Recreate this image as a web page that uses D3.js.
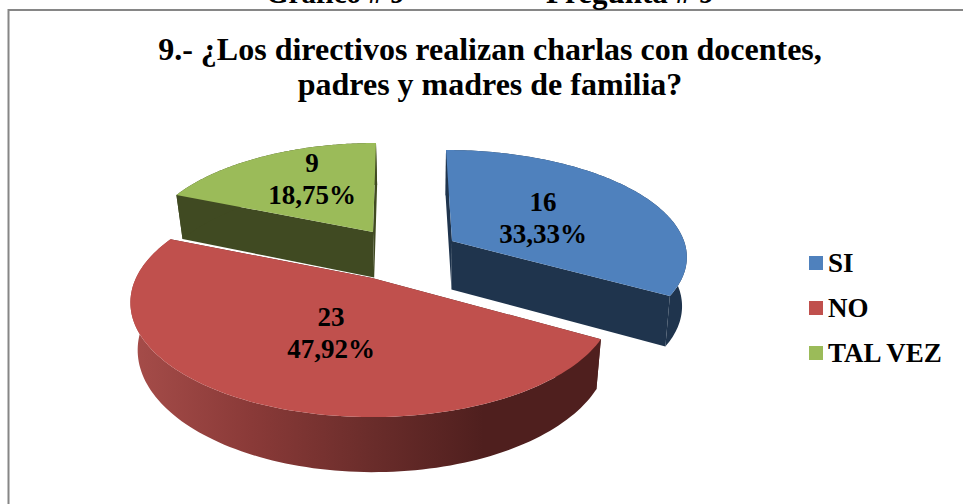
<!DOCTYPE html>
<html><head><meta charset="utf-8">
<script src="https://cdn.jsdelivr.net/npm/d3@7"></script>
<style>html,body{margin:0;padding:0;background:#fff}svg{display:block}text{font-family:"Liberation Serif",serif;font-weight:bold;fill:#000}</style>
</head><body><div id="c"></div>
<script>
const categories=["SI","NO","TAL VEZ"];
const values=[16,23,9];
const percentLabels=["33,33%","47,92%","18,75%"];
const topColors=["#4F81BD","#C0504D","#9BBB59"];
const wallColors=["#1F344D","#4F1F1E","#404A22"];
const titleLines=["9.- ¿Los directivos realizan charlas con docentes,","padres y madres de familia?"];

const W=963,H=504;
const svg=d3.select("#c").append("svg").attr("width",W).attr("height",H);
const defs=svg.append("defs");
const grad=defs.append("linearGradient").attr("id","redRim").attr("gradientUnits","userSpaceOnUse")
  .attr("x1",135).attr("x2",600).attr("y1",0).attr("y2",0);
[[0,"#A54C49"],[.25,"#8A3A38"],[.5,"#6B2D2B"],[.75,"#4F1F1E"],[1,"#4F1F1E"]].forEach(s=>grad.append("stop").attr("offset",s[0]).attr("stop-color",s[1]));
const rimFill=["#1F344D","url(#redRim)","#404A22"];

svg.append("rect").attr("x",8.5).attr("y",10).attr("width",W+20).attr("height",H+20).attr("fill","#fff").attr("stroke","#868686").attr("stroke-width",2);

// per-slice 3D view of each exploded wedge
const views=[
 {ax:452,ay:241,a:102.8,b:232,d:7.7,lean:-6,h:48.5,shrink:.018},
 {ax:372,ay:278,a:109.3,b:236,d:4.67,lean:0,h:46,shrink:.025},
 {ax:373,ay:232,a:102,b:226,d:6.84,lean:3,h:45.5,shrink:.025}
];
const vanishX=421;
const arcs=d3.pie().sort(null).startAngle(0).endAngle(2*Math.PI)(values);
function project(v,t,r,z){
  const x=r*Math.sin(t),y=r*Math.cos(t),s=v.d/(v.d+y);
  let X=v.ax+x*v.b*s+v.lean*y, Y=v.ay-y*v.a*s;
  if(z){X+=(vanishX-X)*v.shrink;Y=v.ay+(Y-v.ay)*.975+v.h*s;}
  return [X,Y];
}
const line=d3.line();
const angles=(a,b)=>d3.range(0,121).map(i=>a+(b-a)*i/120);
const pieG=svg.append("g");
[2,0,1].forEach(i=>{
  const v=views[i],A=arcs[i],g=pieG.append("g");
  const ts=angles(A.startAngle,A.endAngle);
  [A.startAngle,A.endAngle].forEach(t=>{
    g.append("path").attr("fill",wallColors[i]).attr("d",line([project(v,t,0,0),project(v,t,1,0),project(v,t,1,1),project(v,t,0,1)])+"Z");
  });
  g.append("path").attr("fill",rimFill[i]).attr("d",line(ts.map(t=>project(v,t,1,0)).concat(ts.slice().reverse().map(t=>project(v,t,1,1))))+"Z");
  g.append("path").attr("fill",topColors[i]).attr("d",line([[v.ax,v.ay]].concat(ts.map(t=>project(v,t,1,0))))+"Z");
});

const labelPos=[[543,211],[331,326],[312,172]];
values.forEach((val,i)=>{
  const t=svg.append("text").attr("text-anchor","middle").attr("font-size",27);
  t.append("tspan").attr("x",labelPos[i][0]).attr("y",labelPos[i][1]).text(val);
  t.append("tspan").attr("x",labelPos[i][0]).attr("y",labelPos[i][1]+32).text(percentLabels[i]);
});

titleLines.forEach((l,i)=>svg.append("text").attr("x",490).attr("y",60+i*35).attr("text-anchor","middle").attr("font-size",32).text(l));
svg.append("text").attr("x",266).attr("y",3).attr("font-size",29).text("Gráfico # 9");
svg.append("text").attr("x",546).attr("y",3).attr("font-size",31).text("Pregunta # 9");

const legendY=d3.scalePoint().domain(categories).range([263,353]);
categories.forEach((c,i)=>{
  svg.append("rect").attr("x",809).attr("y",legendY(c)-7).attr("width",14).attr("height",14).attr("fill",topColors[i]);
  svg.append("text").attr("x",828).attr("y",legendY(c)+9).attr("font-size",27).text(c);
});
</script></body></html>
